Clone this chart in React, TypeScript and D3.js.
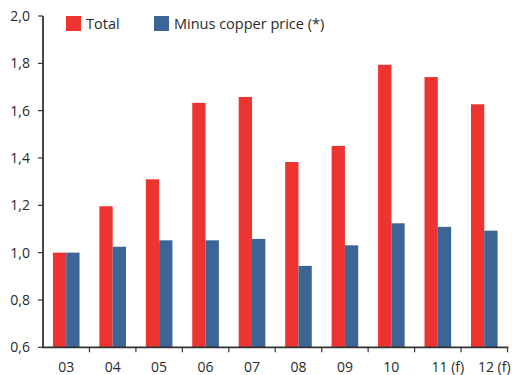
import React from "react";
import * as d3 from "d3";

const categories = ["03", "04", "05", "06", "07", "08", "09", "10", "11 (f)", "12 (f)"];
const totalValues = [1.0, 1.196, 1.31, 1.633, 1.658, 1.383, 1.451, 1.794, 1.742, 1.627];
const minusCopperValues = [1.0, 1.025, 1.052, 1.052, 1.058, 0.944, 1.031, 1.124, 1.109, 1.093];
const seriesNames = ["Total", "Minus copper price (*)"];
const yTicks = [0.6, 0.8, 1.0, 1.2, 1.4, 1.6, 1.8, 2.0];

const W = 512;
const H = 375;
const left = 43;
const right = 507.5;
const top = 16;
const bottom = 347.3;
const RED = "#ee3430";
const BLUE = "#3a6594";
const AXIS = "#333333";
const TEXT = "#2a2a2a";
const FONT = "'Open Sans', sans-serif";

export default function App() {
  const x = d3.scaleBand<string>().domain(categories).range([left, right]).paddingInner(0).paddingOuter(0);
  const y = d3.scaleLinear().domain([0.6, 2.0]).range([bottom, top]);
  const bw = x.bandwidth();
  const barW = 13.3;
  const fmt = (v: number) => v.toFixed(1).replace(".", ",");

  return (
    <svg width={W} height={H} style={{ position: "absolute", left: 0, top: 0 }} fontFamily={FONT}>
      <rect width={W} height={H} fill="#fff" />
      {categories.map((c, i) => {
        const cx = (x(c) as number) + bw / 2;
        return (
          <g key={c}>
            <rect x={cx - barW} y={y(totalValues[i])} width={barW} height={bottom - y(totalValues[i])} fill={RED} />
            <rect x={cx} y={y(minusCopperValues[i])} width={barW} height={bottom - y(minusCopperValues[i])} fill={BLUE} />
          </g>
        );
      })}
      {/* y axis */}
      <line x1={left} x2={left} y1={top} y2={bottom + 1} stroke={AXIS} strokeWidth={1.8} />
      {yTicks.map((t) => (
        <g key={t}>
          <line x1={left - 5} x2={left} y1={y(t)} y2={y(t)} stroke={AXIS} strokeWidth={1.2} />
          <text x={30} y={y(t)} dy="0.35em" textAnchor="end" fontSize={14} fill={TEXT}>
            {fmt(t)}
          </text>
        </g>
      ))}
      {/* x axis */}
      <line x1={left} x2={right + 1} y1={bottom} y2={bottom} stroke={AXIS} strokeWidth={1.8} />
      {categories.map((c, i) => (
        <g key={c}>
          {i > 0 && (
            <line x1={x(c) as number} x2={x(c) as number} y1={bottom} y2={bottom + 5} stroke={AXIS} strokeWidth={1.2} />
          )}
          <text x={(x(c) as number) + bw / 2 + (c.length > 2 ? 10 : 0)} y={372} textAnchor="middle" fontSize={14} fill={TEXT}>
            {c}
          </text>
        </g>
      ))}
      <line x1={right} x2={right} y1={bottom} y2={bottom + 5} stroke={AXIS} strokeWidth={1.2} />
      {/* legend */}
      <rect x={66} y={16} width={15} height={15} fill={RED} />
      <text x={86} y={28.5} fontSize={14.5} fill={TEXT}>{seriesNames[0]}</text>
      <rect x={154} y={16} width={15} height={15} fill={BLUE} />
      <text x={174} y={28.5} fontSize={14.5} fill={TEXT}>{seriesNames[1]}</text>
    </svg>
  );
}
